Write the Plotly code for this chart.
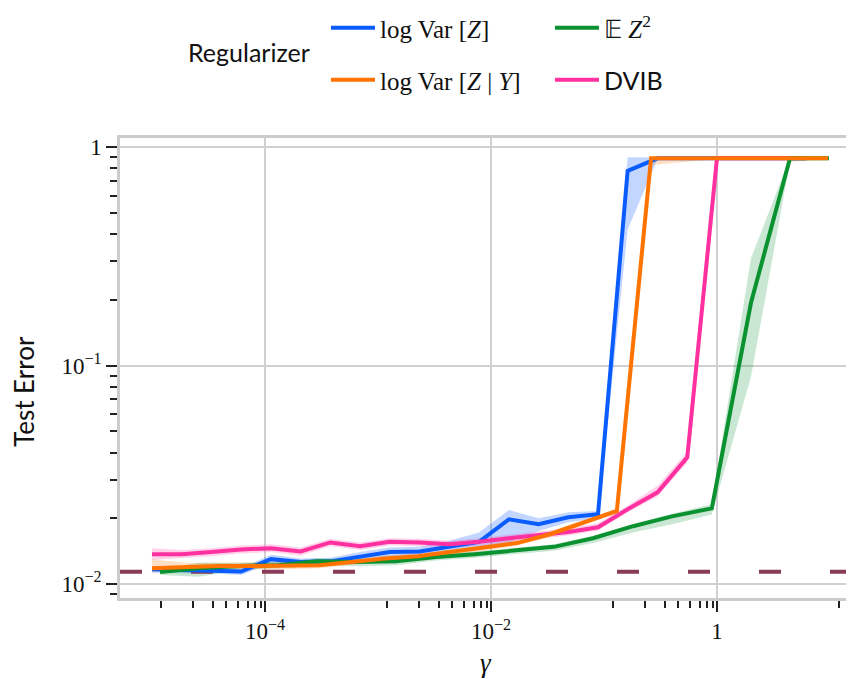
import plotly.graph_objects as go

# ---------------- data ----------------
# log Var[Z]
blue_x = [1.0e-5, 1.83e-5, 3.36e-5, 6.16e-5, 1.13e-4, 2.07e-4, 3.79e-4, 6.95e-4, 1.27e-3, 2.34e-3,
          4.28e-3, 7.85e-3, 1.44e-2, 2.64e-2, 4.83e-2, 8.86e-2, 0.162, 0.298, 0.546, 1.0, 1.83, 3.36, 6.16]
blue_y = [0.0117, 0.0116, 0.0116, 0.0114, 0.0130, 0.0126, 0.0127, 0.0134, 0.0140, 0.0141, 0.0148, 0.0156,
          0.0198, 0.0188, 0.0202, 0.0209, 0.78, 0.89, 0.89, 0.89, 0.89, 0.89, 0.89]
blue_lo = [0.0113, 0.0112, 0.0112, 0.0110, 0.0124, 0.0121, 0.0122, 0.0128, 0.0133, 0.0134, 0.0141, 0.0148,
           0.0155, 0.0175, 0.0192, 0.0200, 0.42, 0.885, 0.885, 0.885, 0.885, 0.885, 0.885]
blue_hi = [0.0121, 0.0120, 0.0120, 0.0118, 0.0136, 0.0131, 0.0132, 0.0140, 0.0147, 0.0148, 0.0158, 0.0172,
           0.0218, 0.0200, 0.0213, 0.0216, 0.90, 0.895, 0.895, 0.895, 0.895, 0.895, 0.895]

# log Var[Z | Y]
orange_x = [1.0e-5, 2.0e-5, 3.9e-5, 7.7e-5, 1.5e-4, 3.0e-4, 5.9e-4, 1.15e-3, 2.26e-3, 4.4e-3, 8.7e-3,
            0.017, 0.0333, 0.0665, 0.130, 0.261, 0.521, 1.04, 2.08, 4.16, 9.6]
orange_y = [0.0118, 0.0120, 0.0121, 0.0121, 0.0121, 0.0122, 0.0126, 0.0131, 0.0134, 0.0140, 0.0146,
            0.0154, 0.0169, 0.0192, 0.0216, 0.89, 0.89, 0.89, 0.89, 0.89, 0.89]
orange_lo = [0.0113, 0.0116, 0.0117, 0.0117, 0.0117, 0.0118, 0.0122, 0.0127, 0.0130, 0.0136, 0.0142,
             0.0150, 0.0164, 0.0187, 0.0210, 0.83, 0.86, 0.885, 0.885, 0.885, 0.885]
orange_hi = [0.0130, 0.0125, 0.0125, 0.0125, 0.0125, 0.0126, 0.0130, 0.0135, 0.0138, 0.0144, 0.0151,
             0.0159, 0.0174, 0.0197, 0.0222, 0.90, 0.895, 0.895, 0.895, 0.895, 0.895]

# E Z^2
green_x = [1.18e-5, 2.6e-5, 5.9e-5, 1.3e-4, 2.9e-4, 6.5e-4, 1.44e-3, 3.26e-3, 7.2e-3, 0.0163, 0.0361,
           0.080, 0.181, 0.40, 0.90, 2.0, 4.43, 9.8]
green_y = [0.01135, 0.0118, 0.0121, 0.0122, 0.0127, 0.0126, 0.0127, 0.0133, 0.0137, 0.0142, 0.0148,
           0.0162, 0.0184, 0.0204, 0.0222, 0.194, 0.89, 0.89]
green_lo = [0.0110, 0.0108, 0.0116, 0.0118, 0.0122, 0.0121, 0.0122, 0.0128, 0.0132, 0.0137, 0.0142,
            0.0154, 0.0172, 0.0188, 0.0208, 0.089, 0.86, 0.885]
green_hi = [0.0117, 0.0125, 0.0125, 0.0126, 0.0131, 0.0130, 0.0131, 0.0137, 0.0141, 0.0146, 0.0152,
            0.0166, 0.0188, 0.0210, 0.0232, 0.31, 0.90, 0.895]

# DVIB
pink_x = blue_x
pink_y = [0.0137, 0.0137, 0.0140, 0.0144, 0.0146, 0.0141, 0.0155, 0.0149, 0.0156, 0.0155, 0.0152, 0.0156,
          0.0162, 0.0167, 0.0173, 0.0182, 0.0220, 0.0263, 0.0380, 0.89, 0.89, 0.89, 0.89]
pink_lo = [0.0129, 0.0131, 0.0134, 0.0138, 0.0140, 0.0135, 0.0149, 0.0143, 0.0150, 0.0149, 0.0146, 0.0150,
           0.0156, 0.0161, 0.0167, 0.0176, 0.0213, 0.0252, 0.0360, 0.885, 0.885, 0.885, 0.885]
pink_hi = [0.0146, 0.0143, 0.0146, 0.0150, 0.0152, 0.0147, 0.0161, 0.0155, 0.0162, 0.0161, 0.0158, 0.0162,
           0.0168, 0.0174, 0.0180, 0.0190, 0.0228, 0.0282, 0.0405, 0.895, 0.895, 0.895, 0.895]

baseline_error = 0.01137

x_tick_vals = [1e-4, 1e-2, 1]
x_tick_text = ["10<sup>−4</sup>", "10<sup>−2</sup>", "1"]
y_tick_vals = [0.01, 0.1, 1]
y_tick_text = ["10<sup>−2</sup>", "10<sup>−1</sup>", "1"]
x_minor_mult = [1.2, 2.3, 3.5, 4.5, 5.8, 7.1, 8.2, 9.2]
x_minor_decades = [1e-5, 1e-3, 1e-1, 10]
y_minor_mult = [2, 3, 4, 5, 6, 7, 8, 9]
y_minor_decades = [1e-3, 1e-2, 1e-1]

X_RANGE = [-5.283, 1.195]
Y_RANGE = [-2.064, 0.0426]

SERIF = "Liberation Serif"
SANS = "Lato"

# name, x, y, lo, hi, line colour, band colour, legend id, legend x, legend y
series = [
    ("log Var [<i>Z</i>]", blue_x, blue_y, blue_lo, blue_hi, "#0b5cff", "rgba(11,92,255,0.25)", "legend", 0.2814, 1.239),
    ("DVIB", pink_x, pink_y, pink_lo, pink_hi, "#ff30a0", "rgba(255,48,160,0.22)", "legend4", 0.5874, 1.126),
    ("𝔼 <i>Z</i><sup>2</sup>", green_x, green_y, green_lo, green_hi, "#0a9130", "rgba(10,145,48,0.22)", "legend2", 0.5874, 1.239),
    ("log Var [<i>Z</i> | <i>Y</i>]", orange_x, orange_y, orange_lo, orange_hi, "#ff7300", "rgba(255,115,0,0.22)", "legend3", 0.2814, 1.126),
]

fig = go.Figure()

# bands
for name, xs, ys, lo, hi, col, fcol, lg, lx, ly in series:
    fig.add_trace(go.Scatter(x=xs, y=hi, mode="lines", line=dict(width=0, color=fcol),
                             showlegend=False, hoverinfo="skip"))
    fig.add_trace(go.Scatter(x=xs, y=lo, mode="lines", line=dict(width=0, color=fcol),
                             fill="tonexty", fillcolor=fcol, showlegend=False, hoverinfo="skip"))

# baseline dashed line
fig.add_trace(go.Scatter(x=[10 ** X_RANGE[0], 10 ** X_RANGE[1]], y=[baseline_error, baseline_error],
                         mode="lines", line=dict(color="#8a3b58", width=4, dash="22px,49px"),
                         showlegend=False, hoverinfo="skip"))

legend_layout = {}
for name, xs, ys, lo, hi, col, fcol, lg, lx, ly in series:
    label = name if name != "DVIB" else '<span style="font-family:Lato">DVIB</span>'
    fig.add_trace(go.Scatter(x=xs, y=ys, mode="lines", name=label,
                             line=dict(color=col, width=4), legend=lg))
    legend_layout[lg] = dict(orientation="h", x=lx, xanchor="left", y=ly, yanchor="middle",
                             itemwidth=44, font=dict(family=SERIF, size=25, color="#111111"),
                             bgcolor="rgba(0,0,0,0)")

axis_common = dict(
    type="log", showgrid=True, gridcolor="#d0d0d0", gridwidth=1.5,
    showline=True, linecolor="#cccccc", linewidth=2.5, mirror=True,
    ticks="outside", ticklen=11, tickwidth=2, tickcolor="#222222",
    tickfont=dict(family=SERIF, size=23, color="#111111"),
    zeroline=False,
)

# The page body has an 8px margin, so the figure is drawn 8px in from the top-left corner.
fig.update_layout(
    width=846, height=671,
    margin=dict(l=112, r=2, t=130, b=81, autoexpand=False),
    paper_bgcolor="white", plot_bgcolor="white",
    xaxis=dict(axis_common, range=X_RANGE, tickmode="array", tickvals=x_tick_vals, ticktext=x_tick_text,
               minor=dict(tickmode="array", tickvals=[m * d for d in x_minor_decades for m in x_minor_mult],
                          ticks="outside", ticklen=7, tickwidth=1.5, tickcolor="#222222", showgrid=False)),
    yaxis=dict(axis_common, range=Y_RANGE, tickmode="array", tickvals=y_tick_vals, ticktext=y_tick_text,
               minor=dict(tickmode="array", tickvals=[m * d for d in y_minor_decades for m in y_minor_mult],
                          ticks="outside", ticklen=7, tickwidth=1.5, tickcolor="#222222", showgrid=False)),
    annotations=[
        dict(text="Regularizer", x=0.176, y=1.187, xref="paper", yref="paper", showarrow=False,
             xanchor="center", yanchor="middle", font=dict(family=SANS, size=25, color="#111111")),
        dict(text="Test Error", x=-0.131, y=0.448, xref="paper", yref="paper", showarrow=False,
             xanchor="center", yanchor="middle", textangle=-90,
             font=dict(family=SANS, size=26, color="#111111")),
        dict(text="<i>γ</i>", x=0.5, y=-0.141, xref="paper", yref="paper", showarrow=False,
             xanchor="center", yanchor="middle", font=dict(family=SERIF, size=27, color="#111111")),
    ],
    **legend_layout,
)

fig.write_html("out.html")
